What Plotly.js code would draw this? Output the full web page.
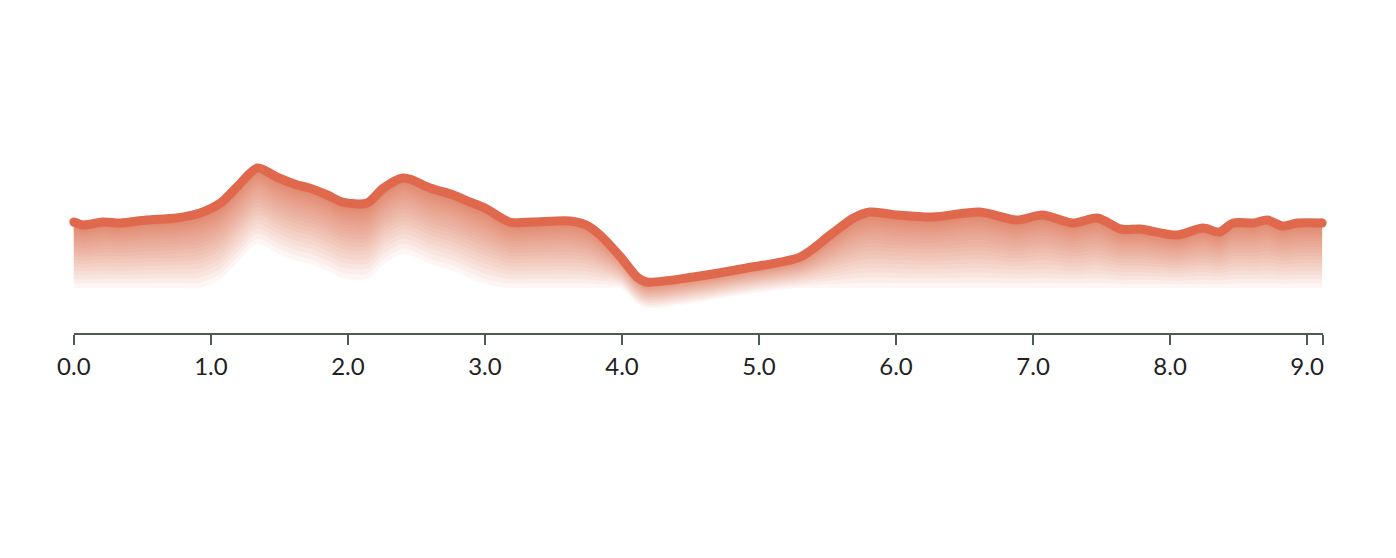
<!DOCTYPE html>
<html>
<head>
<meta charset="utf-8">
<script src="https://cdn.plot.ly/plotly-3.0.1.min.js"></script>
<style>
  html, body { margin: 0; padding: 0; background: #ffffff; }
  #chart { width: 1396px; height: 558px; }
</style>
</head>
<body>
<div id="chart"></div>
<script>
// Distance along the route and elevation profile (arbitrary elevation units)
const distance = [0, 0.07, 0.21, 0.34, 0.53, 0.75, 0.92, 1.07, 1.19, 1.34, 1.48, 1.63, 1.72, 1.85, 1.96, 2.14, 2.26, 2.40, 2.47, 2.60, 2.77, 2.89, 3.0, 3.18, 3.35, 3.62, 3.74, 3.84, 3.99, 4.11, 4.18, 4.52, 4.91, 5.30, 5.52, 5.69, 5.81, 6.01, 6.27, 6.61, 6.88, 7.07, 7.29, 7.47, 7.64, 7.78, 8.05, 8.24, 8.36, 8.46, 8.61, 8.71, 8.82, 8.93, 9.11];
const elevation = [112, 109, 112, 111, 114, 116, 121, 131, 147, 166, 157, 149, 146, 139, 132, 131, 146, 156, 154, 146, 139, 132, 126, 112, 112, 113, 109, 99, 77, 57, 52, 57, 66, 77, 99, 116, 122, 119, 117, 122, 114, 119, 111, 116, 105, 105, 99, 106, 102, 111, 111, 114, 108, 111, 111];
const tickValues = [0, 1, 2, 3, 4, 5, 6, 7, 8, 9, 9.117];
const tickLabels = ['0.0', '1.0', '2.0', '3.0', '4.0', '5.0', '6.0', '7.0', '8.0', '9.0', ''];
const routeEnd = 9.117;

const lineColor = 'rgb(224,104,76)';
const axisColor = '#4d5e50';

// Soft gradient below the line: overlapping translucent bands that all start at the
// profile and reach different depths, so the opacity builds up smoothly near the line.
const traces = [];
const N = 28;
const depth = elevation.map(e => Math.max(26, Math.min(76, e - 46)));
const spl = {width: 0, shape: 'spline', smoothing: 0.8};
for (let k = 1; k <= N; k++) {
  const f = Math.pow(k / N, 2);
  traces.push({
    x: distance, y: elevation, mode: 'lines', type: 'scatter',
    line: spl, hoverinfo: 'skip', showlegend: false
  });
  traces.push({
    x: distance,
    y: elevation.map((e, i) => e - depth[i] * f),
    mode: 'lines', type: 'scatter', fill: 'tonexty',
    fillcolor: 'rgba(224,104,76,0.06)',
    line: spl, hoverinfo: 'skip', showlegend: false
  });
}
// Main profile line
traces.push({
  x: distance, y: elevation, mode: 'lines', type: 'scatter',
  line: {color: lineColor, width: 9, shape: 'spline', smoothing: 0.8},
  showlegend: false
});
// Round end caps
traces.push({
  x: [distance[0], distance[distance.length - 1]],
  y: [elevation[0], elevation[elevation.length - 1]],
  mode: 'markers', type: 'scatter', cliponaxis: false,
  marker: {color: lineColor, size: 9, line: {width: 0}},
  hoverinfo: 'skip', showlegend: false
});

const layout = {
  width: 1396, height: 558,
  margin: {l: 67.15, r: 66.15, t: 0, b: 224},
  paper_bgcolor: '#ffffff', plot_bgcolor: '#ffffff',
  showlegend: false,
  xaxis: {
    range: [-0.05, 9.167],
    showgrid: false, zeroline: false, showline: false,
    tickmode: 'array', tickvals: tickValues, ticktext: tickLabels,
    ticks: 'outside', ticklen: 10, tickwidth: 2, tickcolor: axisColor,
    ticklabelstandoff: 1,
    tickfont: {family: 'Lato, "Open Sans", sans-serif', size: 24, color: '#222222'},
    fixedrange: true
  },
  yaxis: {
    range: [0, 334],
    visible: false, showgrid: false, zeroline: false, fixedrange: true
  },
  shapes: [{
    type: 'line', xref: 'x', yref: 'paper',
    x0: 0, x1: routeEnd, y0: 0, y1: 0,
    line: {color: axisColor, width: 2}
  }]
};

Plotly.newPlot('chart', traces, layout, {displayModeBar: false, staticPlot: true});
</script>
</body>
</html>
